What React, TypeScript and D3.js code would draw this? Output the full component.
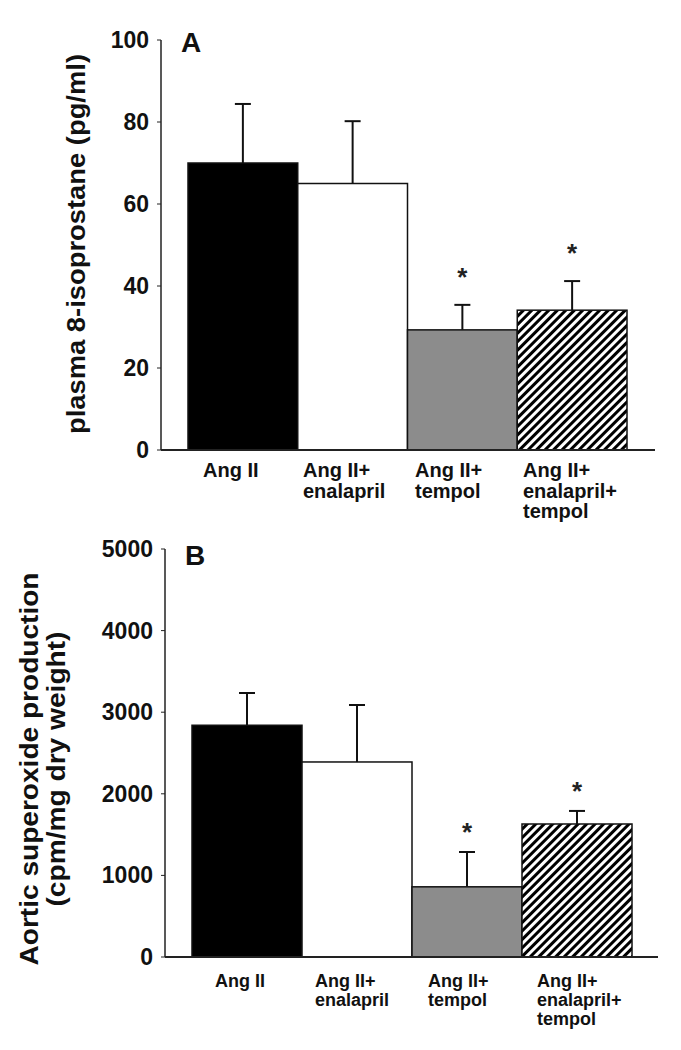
import React from "react";
import * as d3 from "d3";

const categories: string[][] = [
  ["Ang II"],
  ["Ang II+", "enalapril"],
  ["Ang II+", "tempol"],
  ["Ang II+", "enalapril+", "tempol"],
];
const fills = ["black", "white", "#8c8c8c", "url(#hatch)"];

const isoMean = [70, 65, 29.3, 34.1];
const isoSem = [14.4, 15.2, 6.1, 7.1];
const isoSig = [false, false, true, true];
const isoTicks = [0, 20, 40, 60, 80, 100];

const supMean = [2840, 2390, 860, 1630];
const supSem = [395, 698, 427, 160];
const supSig = [false, false, true, true];
const supTicks = [0, 1000, 2000, 3000, 4000, 5000];

const FONT = "'Liberation Sans', Arial, Helvetica, sans-serif";

type PanelProps = {
  mean: number[];
  sem: number[];
  sig: boolean[];
  ticks: number[];
  yMax: number;
  axisX: number;
  yTop: number;
  yBase: number;
  barLeft: number;
  barRight: number;
  axisEnd: number;
  letter: string;
  letterX: number;
  letterY: number;
  labelX: number[];
  labelY: number;
  labelDy: number;
  labelSize: number;
  starGap: number;
  yLabel: React.ReactNode;
};

function Panel(p: PanelProps) {
  const y = d3.scaleLinear().domain([0, p.yMax]).range([p.yBase, p.yTop]);
  const x = d3
    .scaleBand<number>()
    .domain(d3.range(p.mean.length))
    .range([p.barLeft, p.barRight])
    .padding(0);
  const bw = x.bandwidth();
  return (
    <g fontFamily={FONT} fontWeight="bold">
      {p.mean.map((m, i) => {
        const cx = x(i)! + bw / 2;
        const top = y(m + p.sem[i]);
        return (
          <g key={i}>
            <line x1={cx} x2={cx} y1={y(m)} y2={top} stroke="#111" strokeWidth={2} />
            <line x1={cx - 8} x2={cx + 8} y1={top} y2={top} stroke="#111" strokeWidth={2} />
            <rect
              x={x(i)}
              y={y(m)}
              width={bw}
              height={p.yBase - y(m)}
              fill={fills[i]}
              stroke="#111"
              strokeWidth={1.5}
            />
            {p.sig[i] && (
              <text x={cx} y={top - p.starGap} textAnchor="middle" fontSize={26} fill="#222">
                *
              </text>
            )}
          </g>
        );
      })}
      <line x1={p.axisX} x2={p.axisX} y1={p.yTop} y2={p.yBase} stroke="#222" strokeWidth={1.5} />
      <line x1={p.axisX} x2={p.axisEnd} y1={p.yBase} y2={p.yBase} stroke="#222" strokeWidth={2} />
      {p.ticks.map((t) => (
        <g key={t}>
          <line x1={p.axisX - 4} x2={p.axisX} y1={y(t)} y2={y(t)} stroke="#222" strokeWidth={1} />
          <text x={p.axisX - 12} y={y(t) + 8} textAnchor="end" fontSize={23} fill="#111">
            {t}
          </text>
        </g>
      ))}
      <text x={p.letterX} y={p.letterY} fontSize={28} fill="#111">
        {p.letter}
      </text>
      {categories.map((lines, i) => (
        <text key={i} x={p.labelX[i]} y={p.labelY} fontSize={p.labelSize} fill="#111">
          {lines.map((l, j) => (
            <tspan key={j} x={p.labelX[i]} dy={j === 0 ? 0 : p.labelDy}>
              {l}
            </tspan>
          ))}
        </text>
      ))}
      {p.yLabel}
    </g>
  );
}

export default function App() {
  return (
    <svg
      width={681}
      height={1050}
      style={{ position: "absolute", left: 0, top: 0, display: "block", background: "white" }}
    >
      <defs>
        <pattern
          id="hatch"
          width={6}
          height={6}
          patternUnits="userSpaceOnUse"
          patternTransform="rotate(45)"
        >
          <rect width={6} height={6} fill="white" />
          <rect width={3} height={6} fill="black" />
        </pattern>
      </defs>
      <Panel
        mean={isoMean}
        sem={isoSem}
        sig={isoSig}
        ticks={isoTicks}
        yMax={100}
        axisX={161}
        yTop={40}
        yBase={450}
        barLeft={188}
        barRight={627}
        axisEnd={655}
        letter="A"
        letterX={181}
        letterY={52}
        labelX={[203, 303, 415, 523]}
        labelY={477}
        labelDy={20.5}
        labelSize={20}
        starGap={19}
        yLabel={
          <text
            transform="translate(85,244) rotate(-90)"
            textAnchor="middle"
            fontSize={25}
            fill="#111"
            textLength={380}
            lengthAdjust="spacingAndGlyphs"
          >
            plasma 8-isoprostane (pg/ml)
          </text>
        }
      />
      <Panel
        mean={supMean}
        sem={supSem}
        sig={supSig}
        ticks={supTicks}
        yMax={5000}
        axisX={165}
        yTop={549}
        yBase={957}
        barLeft={192}
        barRight={632}
        axisEnd={658}
        letter="B"
        letterX={185}
        letterY={565}
        labelX={[215, 315, 428, 537]}
        labelY={987}
        labelDy={19}
        labelSize={18}
        starGap={11}
        yLabel={
          <text transform="translate(38,769) rotate(-90)" textAnchor="middle" fontSize={25} fill="#111">
            <tspan x={0} dy={0} textLength={393} lengthAdjust="spacingAndGlyphs">
              Aortic superoxide production
            </tspan>
            <tspan x={0} dy={27} textLength={275} lengthAdjust="spacingAndGlyphs">
              (cpm/mg dry weight)
            </tspan>
          </text>
        }
      />
    </svg>
  );
}
